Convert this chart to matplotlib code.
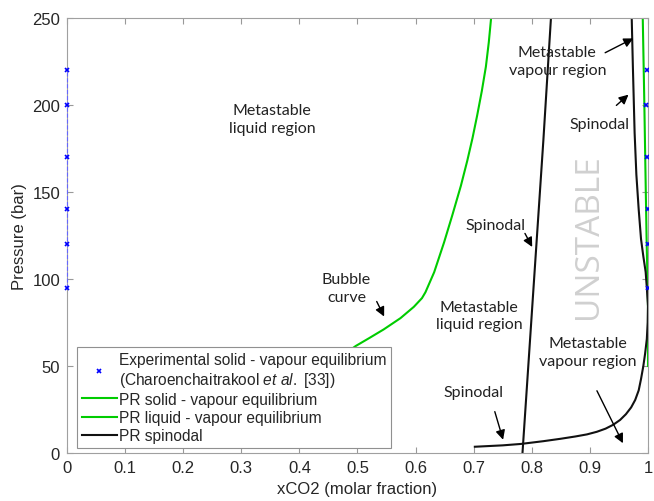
import matplotlib
matplotlib.use("Agg")
import matplotlib.pyplot as plt

plt.rcParams['font.family'] = ['Liberation Sans', 'DejaVu Sans']
plt.rcParams['mathtext.fontset'] = 'custom'
plt.rcParams['mathtext.it'] = 'Liberation Sans:italic'
plt.rcParams['mathtext.rm'] = 'Liberation Sans'

# experimental solid - vapour equilibrium
exp_p = [95, 120, 140, 170, 200, 220]
exp_x_solid = [0, 0, 0, 0, 0, 0]
exp_x_vap = [0.9998, 0.9995, 0.9995, 0.998, 0.9966, 0.9975]

# PR solid - vapour equilibrium
sve_x = [1.0, 0.9975, 0.9955, 0.9935, 0.991]
sve_p = [85, 125, 165, 205, 250]

# PR liquid - vapour equilibrium (bubble curve + dew line)
bub_x = [0.45, 0.47, 0.497, 0.52, 0.545, 0.574, 0.597, 0.611, 0.617, 0.632, 0.649,
         0.663, 0.678, 0.689, 0.698, 0.706, 0.714, 0.721, 0.726, 0.730]
bub_p = [50, 55, 61.5, 66, 71, 77.5, 84, 89, 92.4, 103.9, 121,
         136.4, 153.6, 168, 181, 194, 208, 222, 236, 250]
dew_x = [0.9995, 0.9995]
dew_p = [50, 85]

# PR spinodal
liq_sp_x = [0.784, 0.795, 0.807, 0.820, 0.833]
liq_sp_p = [0, 55, 115, 180, 250]
vap_sp_x = [0.702, 0.75, 0.781, 0.82, 0.85, 0.875, 0.895, 0.912, 0.927, 0.94, 0.952,
            0.962, 0.971, 0.978, 0.984, 0.988, 0.992, 0.995, 0.998, 0.9995, 1.0,
            0.998, 0.996, 0.992, 0.988, 0.984, 0.980, 0.977, 0.974, 0.972]
vap_sp_p = [3.6, 4.4, 5.2, 6.8, 8.2, 9.5, 10.7, 12.2, 14.0, 16.2, 19,
            22.3, 26.2, 30.5, 36, 42.5, 50, 57, 65.5, 75, 84.6,
            95, 104, 113, 123, 140, 160, 184, 222, 250]

green = '#00cc00'

fig = plt.figure(figsize=(6.54, 5.02), dpi=100)
ax = fig.add_axes([0.1024, 0.0956, 0.8884, 0.8666])

ax.plot(exp_x_solid, exp_p, color='#6666ff', ls='--', lw=0.8, marker='x',
        mec='#0000ff', ms=3.5, mew=1.2, clip_on=False, zorder=5)
ax.plot(exp_x_vap, exp_p, ls='none', marker='x', color='#0000ff', ms=3.5,
        mew=1.2, label='Experimental solid - vapour equilibrium\n'
        '(Charoenchaitrakool $et$ $al.$ [33])', zorder=5)
ax.plot(sve_x, sve_p, color=green, lw=1.5, label='PR solid - vapour equilibrium')
ax.plot(bub_x, bub_p, color=green, lw=1.5, label='PR liquid - vapour equilibrium')
ax.plot(dew_x, dew_p, color=green, lw=1.5)
ax.plot(liq_sp_x, liq_sp_p, color='#111111', lw=1.5, label='PR spinodal')
ax.plot(vap_sp_x, vap_sp_p, color='#111111', lw=1.5)

ax.set_xlim(0, 1)
ax.set_ylim(0, 250)
ax.set_xticks([0, 0.1, 0.2, 0.3, 0.4, 0.5, 0.6, 0.7, 0.8, 0.9, 1])
ax.set_xticklabels(['0', '0.1', '0.2', '0.3', '0.4', '0.5', '0.6', '0.7', '0.8', '0.9', '1'])
ax.set_yticks([0, 50, 100, 150, 200, 250])
ax.tick_params(direction='in', length=4, color='#999999', labelsize=12,
               labelcolor='#262626', top=True, right=True, pad=5)
for s in ax.spines.values():
    s.set_color('#a0a0a0')
ax.set_xlabel('xCO2 (molar fraction)', fontsize=12, color='#262626', labelpad=4)
ax.set_ylabel('Pressure (bar)', fontsize=12, color='#262626', labelpad=4)

ann = dict(fontsize=11.5, family=['Lato', 'DejaVu Sans'], ha='center', va='center',
           linespacing=1.35, color='#222222')
arr = dict(arrowstyle='-|>', color='black', lw=1.0, mutation_scale=14)

ax.text(0.353, 192, 'Metastable\nliquid region', **ann)
ax.text(0.481, 95, 'Bubble\ncurve', **ann)
ax.annotate('', xy=(0.548, 77), xytext=(0.531, 88.5), arrowprops=arr)
ax.text(0.709, 79, 'Metastable\nliquid region', **ann)
ax.text(0.738, 131, 'Spinodal', **ann)
ax.annotate('', xy=(0.803, 117), xytext=(0.786, 127.6), arrowprops=arr)
ax.text(0.700, 35, 'Spinodal', **ann)
ax.annotate('', xy=(0.752, 6.1), xytext=(0.735, 25.3), arrowprops=arr)
ax.text(0.896, 58, 'Metastable\nvapour region', **ann)
ax.annotate('', xy=(0.959, 4.2), xytext=(0.910, 37.2), arrowprops=arr)
ax.text(0.844, 225.5, 'Metastable\nvapour region', **ann)
ax.annotate('', xy=(0.979, 239), xytext=(0.922, 229.3), arrowprops=arr)
ax.text(0.916, 189, 'Spinodal', **ann)
ax.annotate('', xy=(0.970, 207), xytext=(0.942, 198.7), arrowprops=arr)
ax.text(0.898, 125, 'UNSTABLE', rotation=90, fontsize=24, color='#d0d0d0',
        family=['Open Sans', 'DejaVu Sans'], ha='center', va='center')

leg = ax.legend(loc='lower left', bbox_to_anchor=(0.017, 0.012), fontsize=11.2,
                frameon=True, fancybox=False, framealpha=1, edgecolor='#909090',
                handlelength=2.3, handletextpad=0.1, borderpad=0.3,
                labelspacing=0.2, borderaxespad=0)
leg.get_frame().set_linewidth(0.8)
leg.set_zorder(10)
for t in leg.get_texts():
    t.set_color('#262626')

fig.savefig('out.png', dpi=100)
